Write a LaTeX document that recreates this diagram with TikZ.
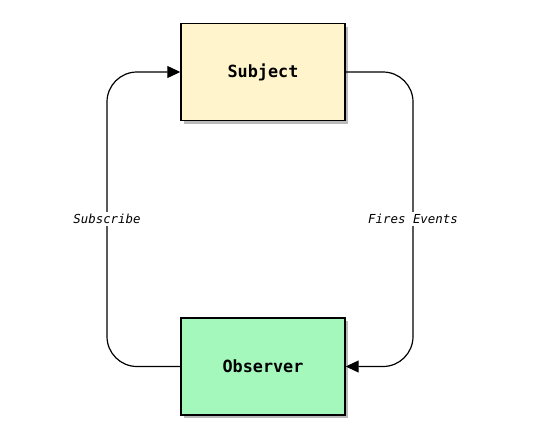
\documentclass[tikz,border=0pt]{standalone}
\usepackage{fontspec}
\setmonofont{DejaVu Sans Mono}
\usetikzlibrary{shadows,arrows.meta}
\definecolor{subjfill}{HTML}{FFF4CC}
\definecolor{obsfill}{HTML}{A5F8BC}
\tikzset{
  box/.style={draw=black, line width=1.4pt, minimum width=164pt, minimum height=97pt,
    font=\fontsize{16.8}{18}\selectfont\ttfamily\bfseries,
    drop shadow={shadow xshift=3pt, shadow yshift=-3pt, fill=black!45, opacity=0.6}},
  conn/.style={line width=1.2pt, rounded corners=30pt, -{Triangle[length=13pt,width=12pt]}},
  lbl/.style={fill=white, inner sep=2pt, font=\fontsize{12.4}{14}\selectfont\ttfamily\itshape}
}
\begin{document}
\begin{tikzpicture}[x=1pt,y=-1pt]
\useasboundingbox (0,0) rectangle (537,447);
\node[box, fill=subjfill] (sub) at (263,72) {Subject};
\node[box, fill=obsfill] (obs) at (263,366.5) {Observer};
\coordinate (lmid) at (107,219);
\coordinate (rmid) at (413,219);
\draw[conn] (obs.west) -| (lmid) |- (sub.west);
\draw[conn] (sub.east) -| (rmid) |- (obs.east);
\node[lbl] (lsub) at (lmid) {Subscribe};
\node[lbl] (lfire) at (rmid) {Fires Events};
\end{tikzpicture}
\end{document}
